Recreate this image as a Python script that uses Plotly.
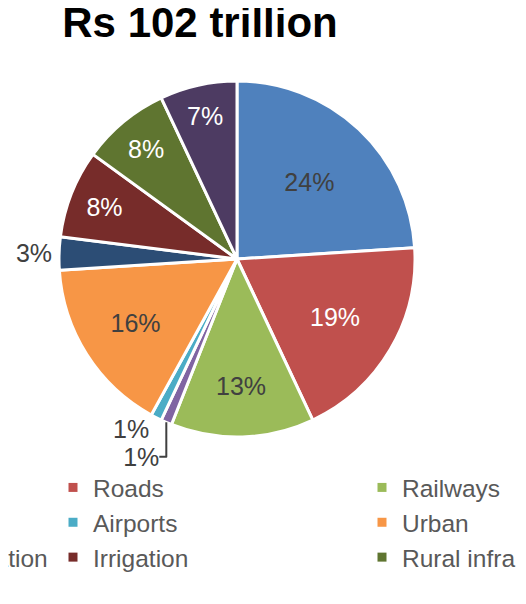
import plotly.graph_objects as go

categories = ["Energy", "Roads", "Railways", "Ports", "Airports", "Urban",
              "Telecommunication", "Irrigation", "Rural infra", "Others"]
shares = [24, 19, 13, 1, 1, 16, 3, 8, 8, 7]
colors = ["#4F81BD", "#C0504D", "#9BBB59", "#8064A2", "#4BACC6", "#F79646",
          "#2C4D75", "#772C2A", "#5F7530", "#4D3B62"]
label_colors = ["#404040", "#FFFFFF", "#404040", "#404040", "#404040", "#404040",
                "#404040", "#FFFFFF", "#FFFFFF", "#FFFFFF"]
label_pos = ["inside", "inside", "inside", "outside", "outside", "inside",
             "outside", "inside", "inside", "inside"]
title_text = "Rs 102 trillion"

# the page body has an 8px margin, so the figure is sized to fit the window
W, H = 518, 596
FONT = "Liberation Sans, Arial, sans-serif"

# pie centre / radius in figure pixels
CX, CY, R = 229, 251, 178

fig = go.Figure()
fig.add_trace(go.Pie(
    labels=categories, values=shares, sort=False, direction="clockwise",
    rotation=0,
    marker=dict(colors=colors, line=dict(color="white", width=3)),
    texttemplate="%{value}%", textposition=label_pos,
    insidetextorientation="horizontal",
    insidetextfont=dict(family=FONT, size=25, color=label_colors),
    outsidetextfont=dict(family=FONT, size=25, color="#404040"),
    domain=dict(x=[(CX - R) / W, (CX + R) / W],
                y=[(H - CY - R) / H, (H - CY + R) / H]),
    showlegend=False, hoverinfo="label+percent",
))

legend_names = ["legend", "legend2", "legend3"]
for i, (name, col) in enumerate(zip(categories, colors)):
    fig.add_trace(go.Scatter(
        x=[None], y=[None], mode="markers", name=name,
        marker=dict(symbol="square", size=9, color=col),
        legend=legend_names[i % 3], showlegend=True,
    ))

leg_common = dict(orientation="v", xanchor="left", yanchor="top",
                  y=(H - 457) / H, bgcolor="rgba(0,0,0,0)",
                  font=dict(family=FONT, size=24.5, color="#595959"),
                  itemclick=False, itemdoubleclick=False)

fig.update_layout(
    width=W, height=H,
    margin=dict(l=0, r=0, t=0, b=0, autoexpand=False),
    paper_bgcolor="white", plot_bgcolor="white",
    title=dict(text=title_text, x=192 / W, xanchor="center", xref="container",
               y=1, yanchor="top", yref="container",
               font=dict(family=FONT, size=42, color="black", weight="bold")),
    xaxis=dict(visible=False, domain=[0, 0.01]),
    yaxis=dict(visible=False, domain=[0, 0.01]),
    legend=dict(x=-210 / W, **leg_common),
    legend2=dict(x=45 / W, **leg_common),
    legend3=dict(x=354 / W, **leg_common),
)

fig.write_html("out.html")
